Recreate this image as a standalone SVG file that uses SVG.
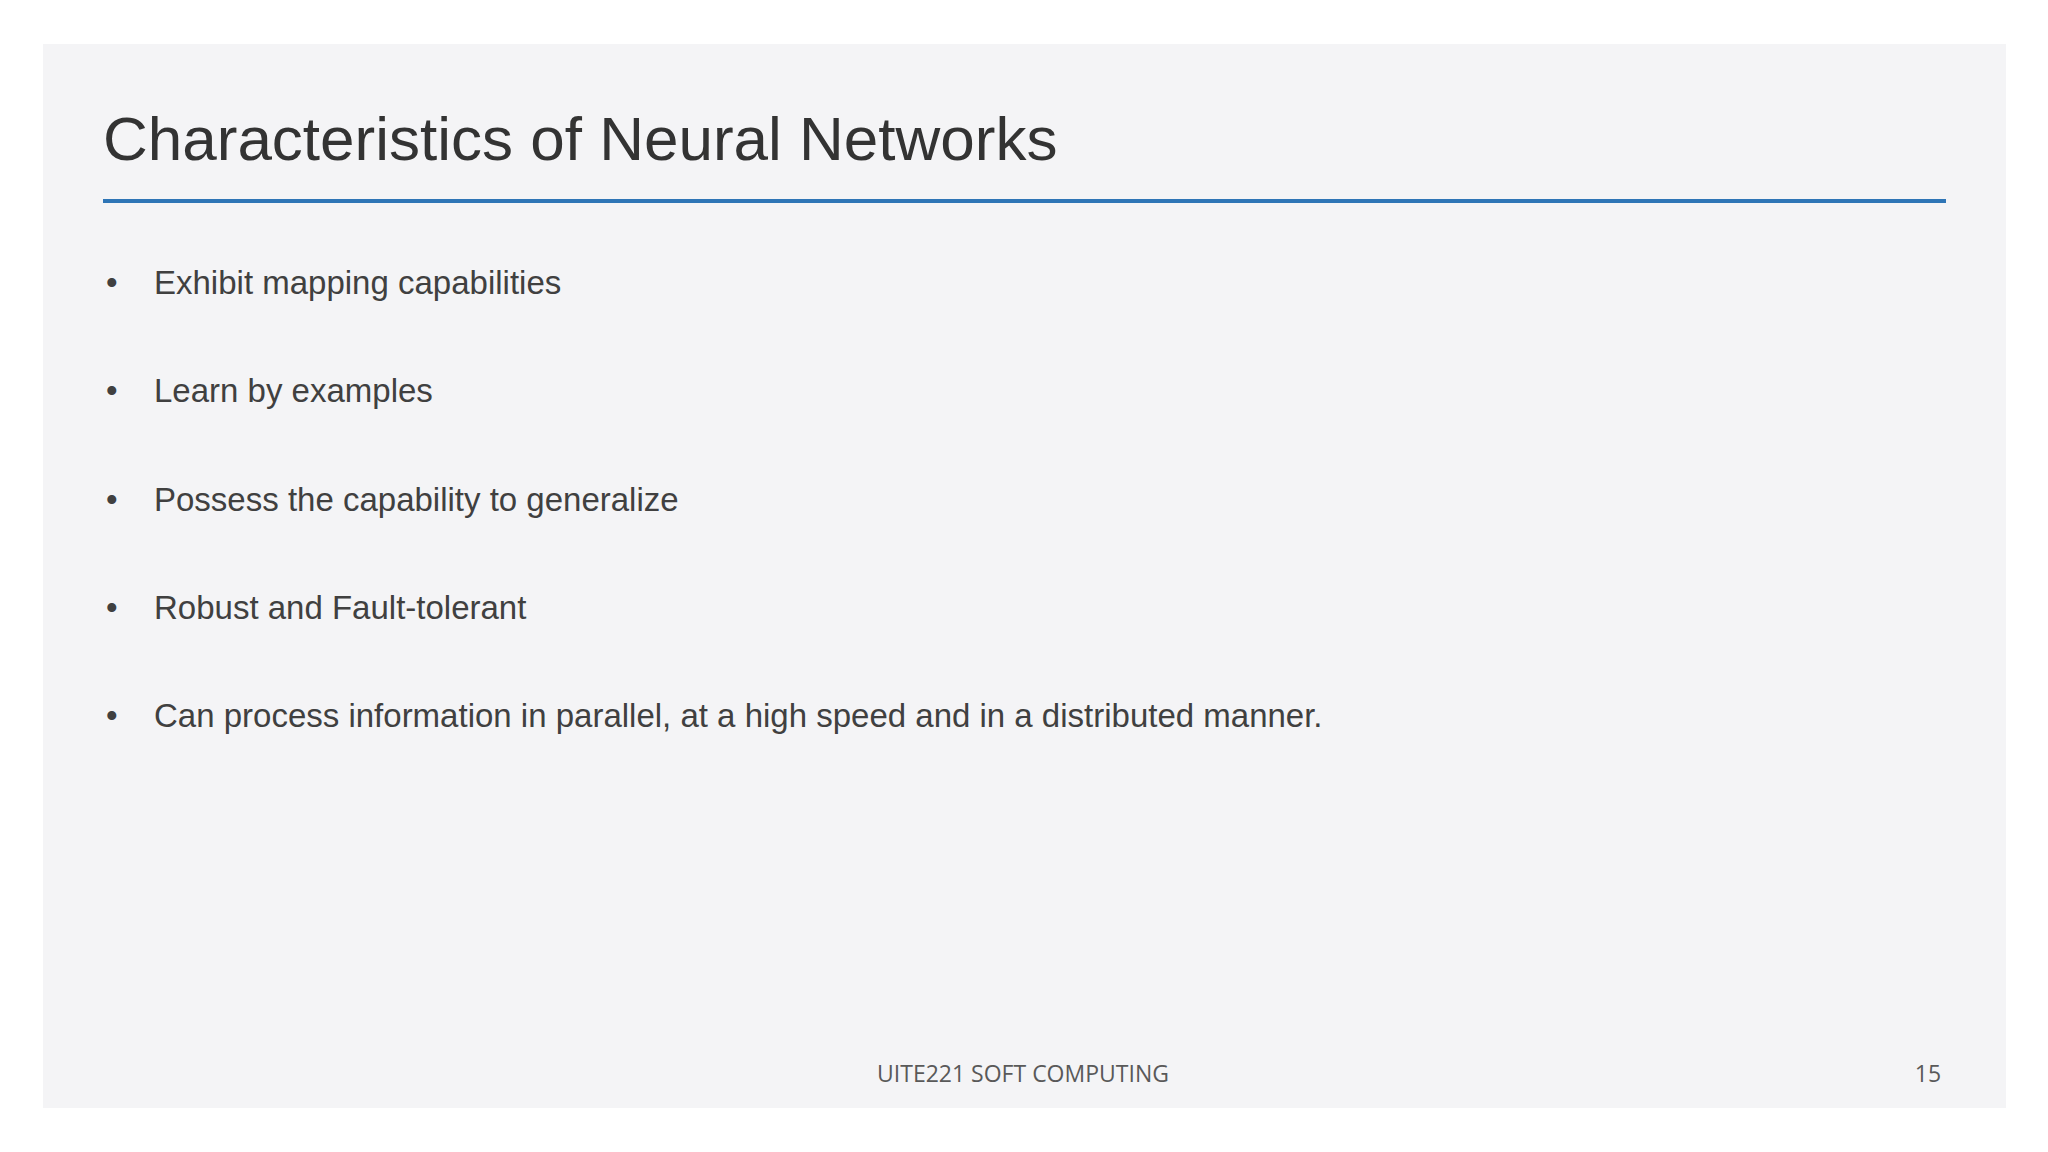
<svg xmlns="http://www.w3.org/2000/svg" width="2048" height="1152" viewBox="0 0 2048 1152">
<style>
.b{font-family:"Liberation Sans",Arial,sans-serif;font-size:33px;fill:#404040}
.f{font-family:"Open Sans","Noto Sans",sans-serif;font-size:23px;fill:#595959}
</style>
<rect width="2048" height="1152" fill="#ffffff"/>
<rect x="43" y="44" width="1963" height="1064" fill="#f4f4f6"/>
<g id="title"><text x="103" y="160" font-family="Liberation Sans,Arial,sans-serif" font-size="62" fill="#333333">Characteristics of Neural Networks</text>
<rect x="103" y="199" width="1843" height="4" fill="#2e75b6"/></g>
<g id="bullets">
<text class="b" x="106" y="294">•</text><text class="b" x="154" y="294">Exhibit mapping capabilities</text>
<text class="b" x="106" y="402">•</text><text class="b" x="154" y="402">Learn by examples</text>
<text class="b" x="106" y="511">•</text><text class="b" x="154" y="511">Possess the capability to generalize</text>
<text class="b" x="106" y="619">•</text><text class="b" x="154" y="619">Robust and Fault-tolerant</text>
<text class="b" x="106" y="727">•</text><text class="b" x="154" y="727">Can process information in parallel, at a high speed and in a distributed manner.</text>
</g>
<g id="footer">
<text class="f" x="1023" y="1082" text-anchor="middle">UITE221 SOFT COMPUTING</text>
<text class="f" x="1928" y="1082" text-anchor="middle">15</text>
</g>
</svg>
